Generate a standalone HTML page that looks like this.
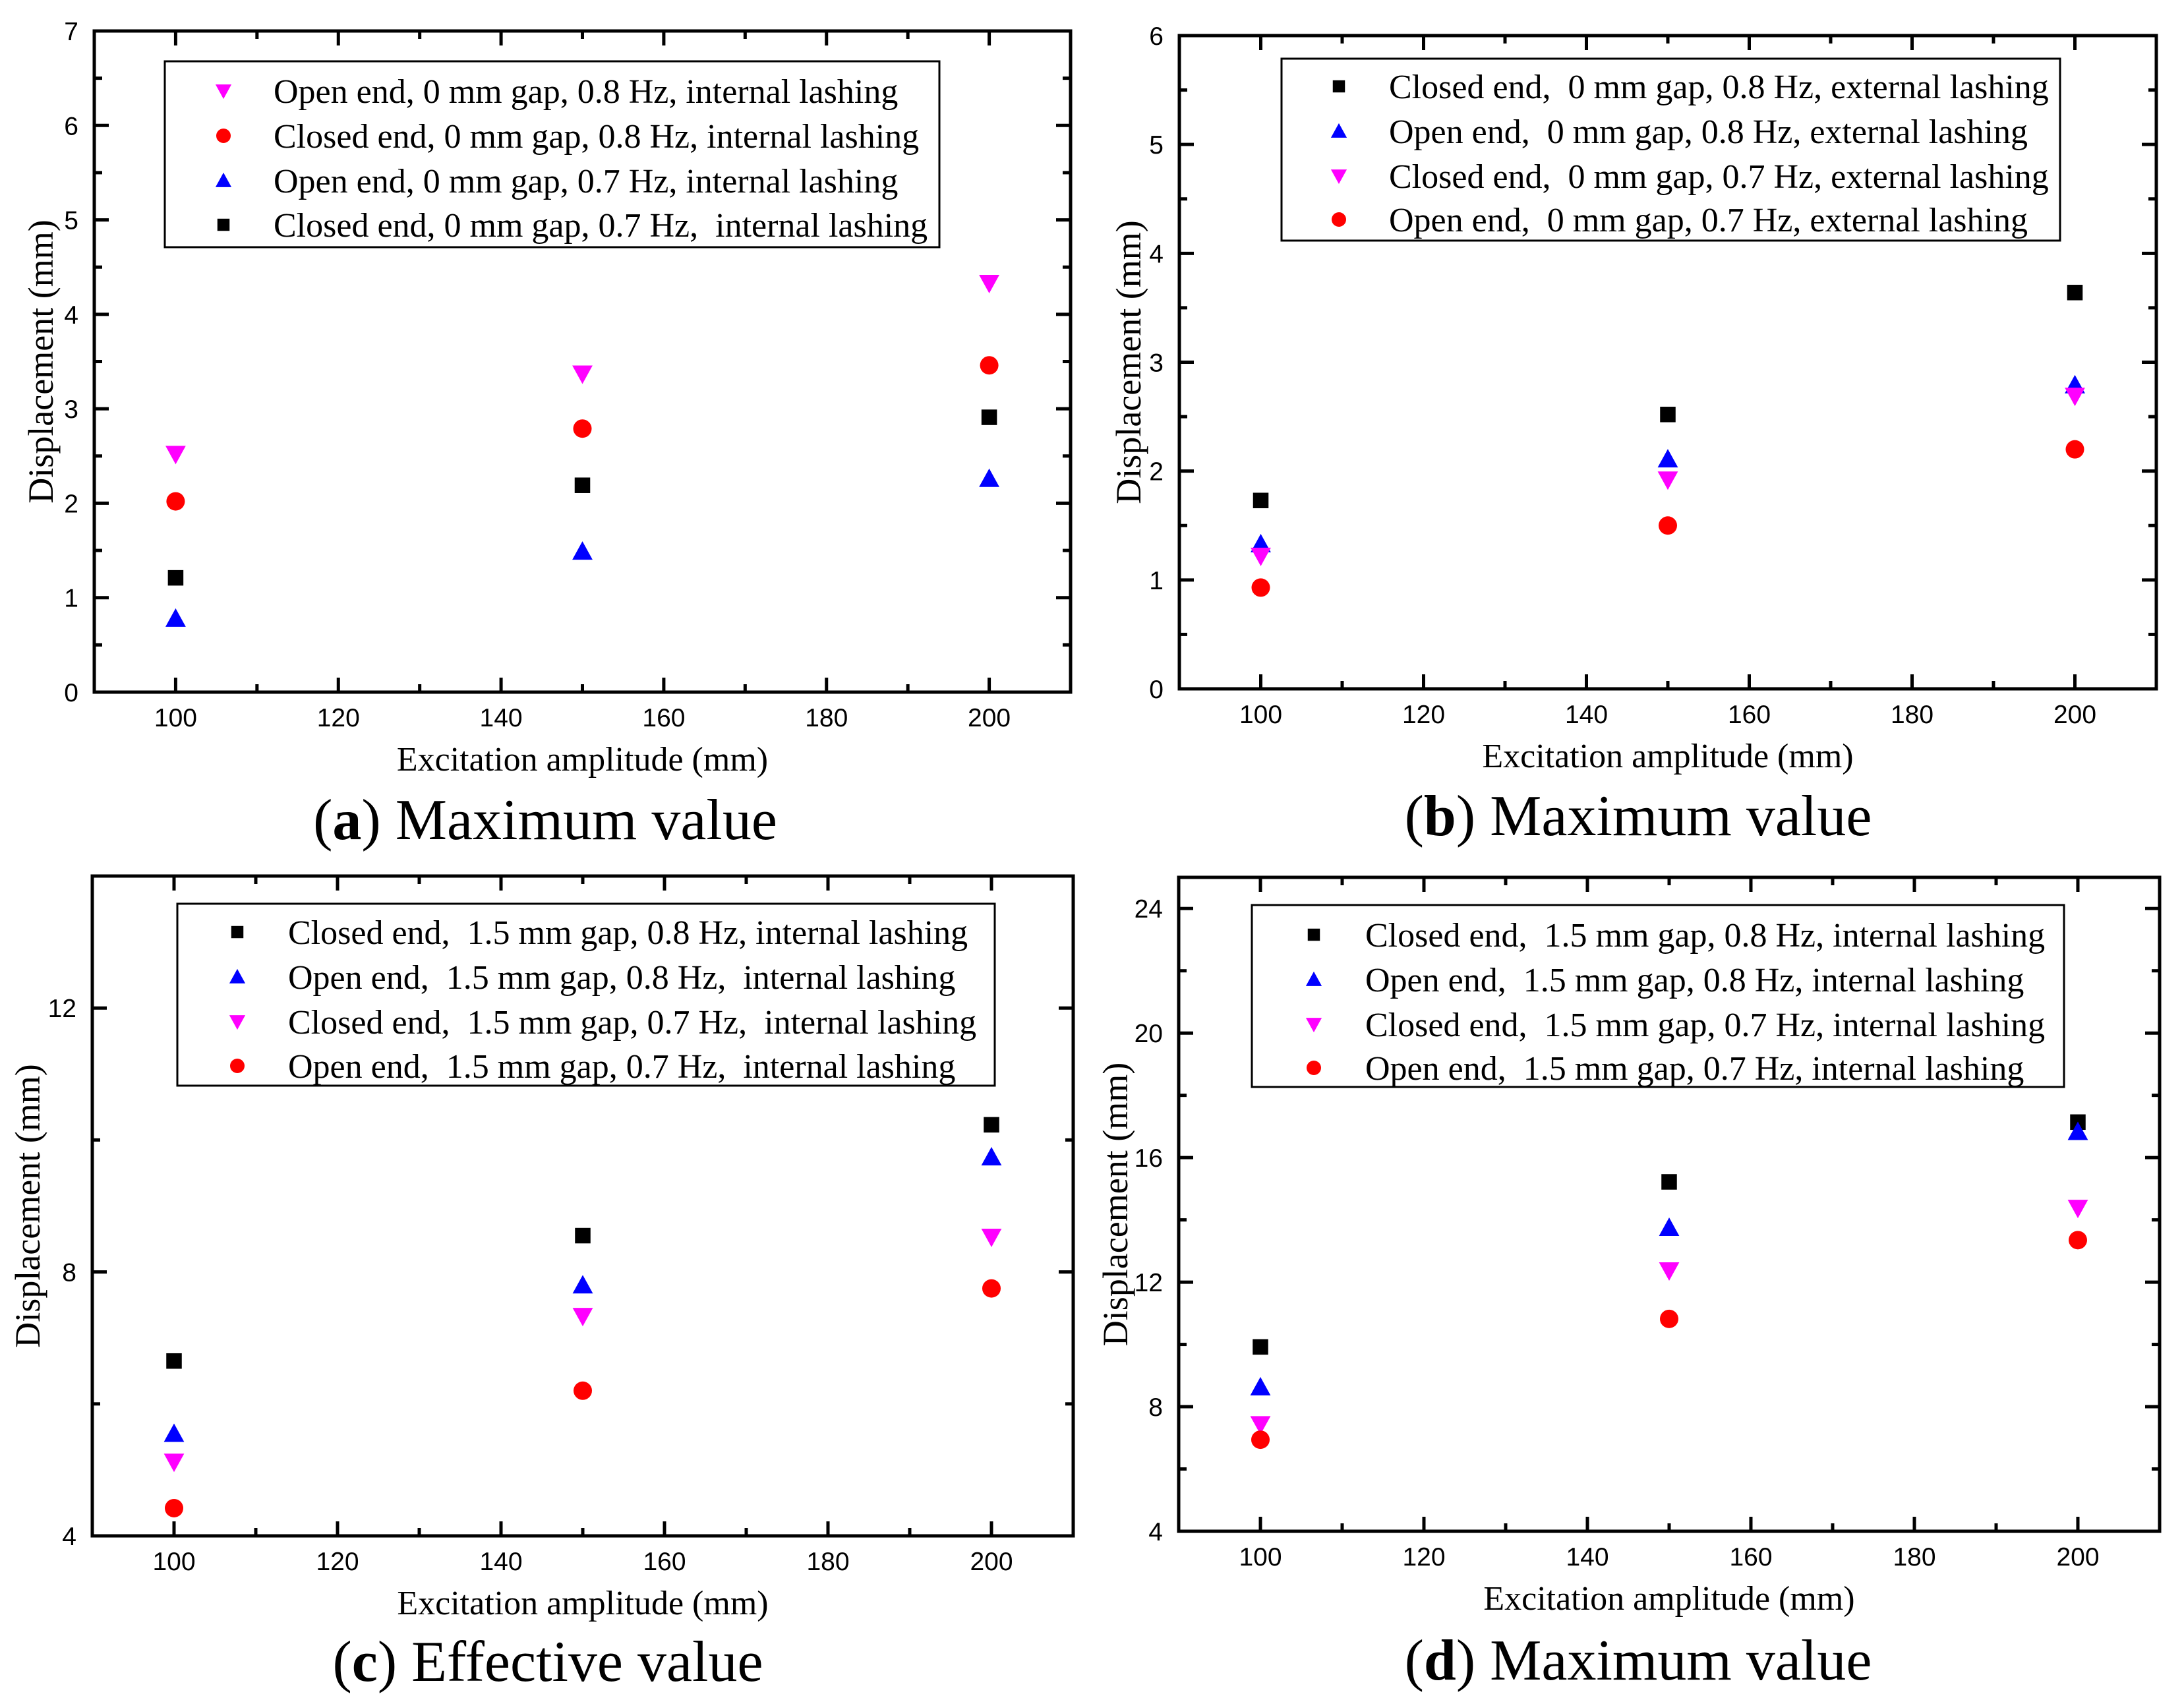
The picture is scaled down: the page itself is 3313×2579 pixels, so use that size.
<!DOCTYPE html>
<html><head><meta charset="utf-8">
<style>
html,body{margin:0;padding:0;background:#fff;}
svg{display:block;}
.tick{font-family:"Liberation Sans",Arial,sans-serif;font-size:39px;fill:#000;}
.ser{font-family:"Liberation Serif","Times New Roman",serif;fill:#000;}
</style></head>
<body>
<svg id="fig" width="3313" height="2579" viewBox="0 0 3313 2579" xmlns="http://www.w3.org/2000/svg"></svg>
<script>
// ---- data ----
const xCats = [100, 150, 200];
const xTicks = [100, 120, 140, 160, 180, 200];

// panel a
const aLabels = ["Open end, 0 mm gap, 0.8 Hz, internal lashing","Closed end, 0 mm gap, 0.8 Hz, internal lashing","Open end, 0 mm gap, 0.7 Hz, internal lashing","Closed end, 0 mm gap, 0.7 Hz,  internal lashing"];
const aOpen08 = [2.52, 3.37, 4.33];
const aClosed08 = [2.02, 2.79, 3.46];
const aOpen07 = [0.78, 1.49, 2.26];
const aClosed07 = [1.21, 2.19, 2.91];
const aYTicks = [0,1,2,3,4,5,6,7];

// panel b
const bLabels = ["Closed end,  0 mm gap, 0.8 Hz, external lashing","Open end,  0 mm gap, 0.8 Hz, external lashing","Closed end,  0 mm gap, 0.7 Hz, external lashing","Open end,  0 mm gap, 0.7 Hz, external lashing"];
const bClosed08 = [1.73, 2.52, 3.64];
const bOpen08 = [1.33, 2.11, 2.79];
const bClosed07 = [1.22, 1.92, 2.69];
const bOpen07 = [0.93, 1.50, 2.20];
const bYTicks = [0,1,2,3,4,5,6];

// panel c
const cLabels = ["Closed end,  1.5 mm gap, 0.8 Hz, internal lashing","Open end,  1.5 mm gap, 0.8 Hz,  internal lashing","Closed end,  1.5 mm gap, 0.7 Hz,  internal lashing","Open end,  1.5 mm gap, 0.7 Hz,  internal lashing"];
const cClosed08 = [6.65, 8.55, 10.23];
const cOpen08 = [5.55, 7.80, 9.74];
const cClosed07 = [5.12, 7.33, 8.53];
const cOpen07 = [4.42, 6.20, 7.75];
const cYTicks = [4, 8, 12];

// panel d
const dLabels = ["Closed end,  1.5 mm gap, 0.8 Hz, internal lashing","Open end,  1.5 mm gap, 0.8 Hz, internal lashing","Closed end,  1.5 mm gap, 0.7 Hz, internal lashing","Open end,  1.5 mm gap, 0.7 Hz, internal lashing"];
const dClosed08 = [9.92, 15.22, 17.14];
const dOpen08 = [8.63, 13.75, 16.83];
const dClosed07 = [7.43, 12.37, 14.38];
const dOpen07 = [6.94, 10.82, 13.35];
const dYTicks = [4, 8, 12, 16, 20, 24];

const NS = "http://www.w3.org/2000/svg";
const svg = document.getElementById('fig');
function mk(tag, attrs, parent){
  const e = document.createElementNS(NS, tag);
  for (const k in attrs) e.setAttribute(k, attrs[k]);
  (parent||svg).appendChild(e);
  return e;
}
function marker(g, type, cx, cy, s){
  let e;
  if (type==='sq'){ e = mk('rect',{x:cx-s*0.42,y:cy-s*0.42,width:s*0.84,height:s*0.84,fill:'#000'},g); }
  else if (type==='ci'){ e = mk('circle',{cx:cx,cy:cy,r:s*0.5,fill:'#ff0000'},g); }
  else if (type==='up'){ e = mk('polygon',{points:`${cx},${cy-s*0.55} ${cx+s*0.55},${cy+s*0.45} ${cx-s*0.55},${cy+s*0.45}`,fill:'#0000ff'},g); }
  else { e = mk('polygon',{points:`${cx-s*0.55},${cy-s*0.45} ${cx+s*0.55},${cy-s*0.45} ${cx},${cy+s*0.55}`,fill:'#ff00ff'},g); }
  return e;
}

function panel(p){
  const g = mk('g',{});
  
  
  const X = v => p.L + (v - 90) / 120 * (p.R - p.L);
  const Y = v => p.B - (v - p.ymin) / (p.ymax - p.ymin) * (p.B - p.T);
  const tk = mk('g',{stroke:'#000','stroke-width':5},g);
  for (let v = 90; v <= 210; v += 10){
    const maj = xTicks.includes(v), len = maj ? 22 : 12;
    mk('line',{x1:X(v),x2:X(v),y1:p.B,y2:p.B-len},tk);
    mk('line',{x1:X(v),x2:X(v),y1:p.T,y2:p.T+len},tk);
  }
  for (let v = p.ymin; v <= p.ymax + 1e-9; v += p.minor){
    const maj = p.yt.some(t=>Math.abs(t-v)<1e-6), len = maj ? 22 : 12;
    mk('line',{x1:p.L,x2:p.L+len,y1:Y(v),y2:Y(v)},tk);
    mk('line',{x1:p.R,x2:p.R-len,y1:Y(v),y2:Y(v)},tk);
  }
  const fr = mk('rect',{x:p.L,y:p.T,width:p.R-p.L,height:p.B-p.T,fill:'none',stroke:'#000','stroke-width':5},g);
  
  
  xTicks.forEach(v=>{
    const t = mk('text',{x:X(v),y:p.B+52,'text-anchor':'middle',class:'tick'},g);
    
    
    t.textContent = v;
  });
  p.yt.forEach(v=>{
    const t = mk('text',{x:p.L-24,y:Y(v)+14,'text-anchor':'end',class:'tick'},g);
    
    
    t.textContent = v;
  });
  const xt = mk('text',{x:(p.L+p.R)/2,y:p.B+119,'text-anchor':'middle',class:'ser','font-size':52},g);
  
  
  xt.textContent = 'Excitation amplitude (mm)';
  const yx = p.ytx, yy = (p.T+p.B)/2;
  const yt = mk('text',{x:yx,y:yy,'text-anchor':'middle',class:'ser','font-size':54,transform:`rotate(-90 ${yx} ${yy})`},g);
  
  
  yt.textContent = 'Displacement (mm)';
  p.series.forEach(s=>{
    s.vals.forEach((v,i)=>{
      const m = marker(g, s.type, X(xCats[i]), Y(v), 28);
      
      
    });
  });
  const lg = mk('g',{},g);
  
  
  mk('rect',{x:p.lg[0],y:p.lg[1],width:p.lg[2]-p.lg[0],height:p.lg[3]-p.lg[1],fill:'#fff',stroke:'#000','stroke-width':3},lg);
  p.series.forEach((s,i)=>{
    const ry = p.rows[i];
    const m = marker(lg, s.type, p.mx, ry, 22);
    
    
    const t = mk('text',{x:p.tx,y:ry+18,class:'ser','font-size':52},lg);
    
    
    t.style.whiteSpace='pre';
    t.textContent = s.label;
  });
  const cap = mk('text',{x:p.capx,y:p.capy,'text-anchor':'middle',class:'ser','font-size':88},g);
  
  
  const b1 = mk('tspan',{},cap); b1.textContent='(';
  const b2 = mk('tspan',{'font-weight':'bold'},cap); b2.textContent=p.id;
  const b3 = mk('tspan',{},cap); b3.textContent=') '+p.cap;
}

panel({id:'a',L:143,R:1624,T:47,B:1050,ymin:0,ymax:7,minor:0.5,yt:aYTicks,ytx:80,
  lg:[250,93,1425,375],rows:[138,206,274,341],mx:339,tx:415,capx:827,capy:1273,cap:'Maximum value',
  series:[{type:'dn',vals:aOpen08,label:aLabels[0]},{type:'ci',vals:aClosed08,label:aLabels[1]},{type:'up',vals:aOpen07,label:aLabels[2]},{type:'sq',vals:aClosed07,label:aLabels[3]}]});
panel({id:'b',L:1789,R:3271,T:54,B:1045,ymin:0,ymax:6,minor:0.5,yt:bYTicks,ytx:1730,
  lg:[1944,89,3125,365],rows:[131,199,267,333],mx:2031,tx:2107,capx:2485,capy:1267,cap:'Maximum value',
  series:[{type:'sq',vals:bClosed08,label:bLabels[0]},{type:'up',vals:bOpen08,label:bLabels[1]},{type:'dn',vals:bClosed07,label:bLabels[2]},{type:'ci',vals:bOpen07,label:bLabels[3]}]});
panel({id:'c',L:140,R:1628,T:1329,B:2330,ymin:4,ymax:14,minor:2,yt:cYTicks,ytx:60,
  lg:[269,1371,1509,1647],rows:[1414,1482,1550,1617],mx:360,tx:437,capx:831,capy:2550,cap:'Effective value',
  series:[{type:'sq',vals:cClosed08,label:cLabels[0]},{type:'up',vals:cOpen08,label:cLabels[1]},{type:'dn',vals:cClosed07,label:cLabels[2]},{type:'ci',vals:cOpen07,label:cLabels[3]}]});
panel({id:'d',L:1788,R:3276,T:1331,B:2323,ymin:4,ymax:25,minor:2,yt:dYTicks,ytx:1710,
  lg:[1899,1373,3131,1649],rows:[1418,1486,1554,1620],mx:1993,tx:2071,capx:2485,capy:2548,cap:'Maximum value',
  series:[{type:'sq',vals:dClosed08,label:dLabels[0]},{type:'up',vals:dOpen08,label:dLabels[1]},{type:'dn',vals:dClosed07,label:dLabels[2]},{type:'ci',vals:dOpen07,label:dLabels[3]}]});
</script>
</body></html>
